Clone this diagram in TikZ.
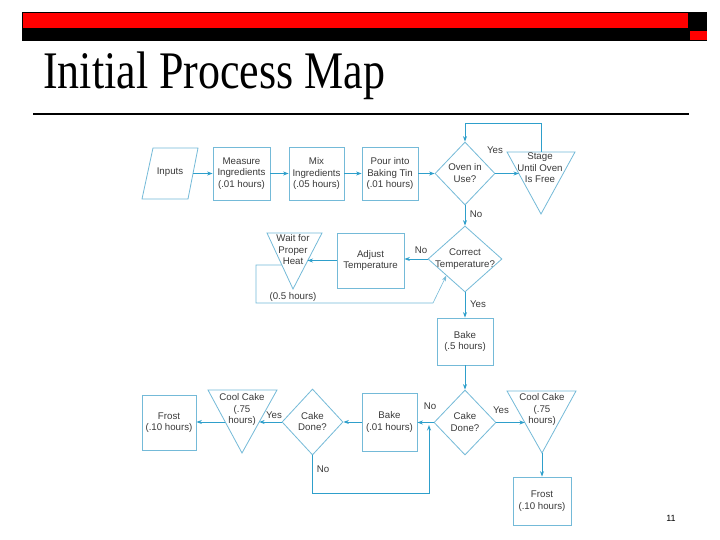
\documentclass[tikz,border=0pt]{standalone}
\usepackage{fontspec}
\setmainfont{Liberation Sans}
\newfontfamily\titlefont{Liberation Serif}
\usetikzlibrary{shapes.geometric,arrows.meta,calc}
\definecolor{boxc}{HTML}{74BAD8}
\definecolor{arrc}{HTML}{2E9FCB}
\definecolor{txtc}{HTML}{3A3A3A}
\definecolor{hdrred}{HTML}{FF0000}
\begin{document}
\begin{tikzpicture}[x=1pt,y=-1pt,
  txt/.style={text=txtc,font=\fontsize{9.7}{11.5}\selectfont,align=center,inner sep=0pt},
  boxn/.style={draw=boxc,line width=0.8pt,rectangle,text=txtc,font=\fontsize{9.7}{11.5}\selectfont,align=center,inner sep=1pt},
  dia/.style={draw=boxc,line width=0.8pt,diamond,inner sep=0pt},
  shp/.style={draw=boxc,line width=0.8pt,line join=miter},
  arr/.style={draw=arrc,line width=0.9pt,-{Stealth[length=5.5pt,width=4pt]}},
  lne/.style={draw=boxc,line width=0.8pt},
  lbl/.style={text=txtc,font=\fontsize{9.7}{11.5}\selectfont,inner sep=0pt}
]
\useasboundingbox (0,0) rectangle (720,540);
\fill[white] (0,0) rectangle (720,540);

% header
\fill[black] (22,12) rectangle (707,41);
\fill[hdrred] (23,13) rectangle (688,28);
\fill[hdrred] (690,31) rectangle (707,40);
\node[anchor=base west,inner sep=0pt] (title) at (43,89)
  {\scalebox{1}[1.2]{\titlefont\fontsize{44}{48}\selectfont Initial Process Map}};
\draw[line width=2pt] (33,114) -- (689,114);
\node[lbl,font=\fontsize{9}{10}\selectfont,text=black] (pnum) at (671,518) {11};

% Inputs parallelogram
\coordinate (in1) at (153,148);
\coordinate (in2) at (198,148);
\coordinate (in3) at (188,199);
\coordinate (in4) at (142,199);
\draw[shp] (in1) -- (in2) -- (in3) -- (in4) -- cycle;
\node[txt] (inputs) at (170,172) {Inputs};
\coordinate (inE) at ($(in2)!0.5!(in3)$);

% top row boxes
\node[boxn,minimum width=57pt,minimum height=53pt] (measure) at (241.5,173.5) {Measure\\Ingredients\\(.01 hours)};
\node[boxn,minimum width=55pt,minimum height=53pt] (mix) at (316.5,173.5) {Mix\\Ingredients\\(.05 hours)};
\node[boxn,minimum width=56pt,minimum height=53pt] (pour) at (390,173.5) {Pour into\\Baking Tin\\(.01 hours)};

% oven diamond
\node[dia,minimum width=60pt,minimum height=63pt] (oven) at (465,173.5) {};
\node[txt] (oventxt) at (465,173) {Oven in\\Use?};

% stage triangle
\coordinate (s1) at (507,152);
\coordinate (s2) at (575,152);
\coordinate (s3) at (541,214);
\draw[shp] (s1) -- (s2) -- (s3) -- cycle;
\node[txt] (stagetxt) at (540,168) {Stage\\Until Oven\\Is Free};
\coordinate (sW) at ($(s1)!0.35!(s3)$);
\coordinate (sTop) at (541,152);

% correct temperature diamond
\node[dia,minimum width=74pt,minimum height=66pt] (corr) at (465,259) {};
\node[txt] (corrtxt) at (465,259) {Correct\\Temperature?};

% adjust box
\node[boxn,minimum width=67pt,minimum height=55pt] (adjust) at (370.5,260.5) {Adjust\\Temperature};

% wait triangle
\coordinate (w1) at (267,233);
\coordinate (w2) at (322,233);
\coordinate (w3) at (293,289);
\draw[shp] (w1) -- (w2) -- (w3) -- cycle;
\node[txt] (waittxt) at (293,250) {Wait for\\Proper\\Heat};
\coordinate (wE) at ($(w2)!0.5!(w3)$);
\coordinate (wW) at ($(w1)!0.57!(w3)$);
\node[lbl] (halfh) at (293,297) {(0.5 hours)};
\coordinate (lp1) at (256,265);
\coordinate (lp2) at (256,303);
\coordinate (lp3) at (433,303);
\coordinate (corrSW) at ($(corr.west)!0.5!(corr.south)$);

% bake box
\node[boxn,minimum width=56pt,minimum height=47pt] (bake) at (465,341.5) {Bake\\(.5 hours)};

% right cake done diamond
\node[dia,minimum width=62pt,minimum height=65pt] (doneR) at (465,422.5) {};
\node[txt] (doneRtxt) at (465,422) {Cake\\Done?};

% right cool cake triangle
\coordinate (c1) at (507,391);
\coordinate (c2) at (576,391);
\coordinate (c3) at (542,453);
\draw[shp] (c1) -- (c2) -- (c3) -- cycle;
\node[txt] (coolRtxt) at (542,409.5) {Cool Cake\\(.75\\hours)};
\coordinate (cW) at ($(c1)!0.51!(c3)$);

% right frost
\node[boxn,minimum width=58pt,minimum height=48pt] (frostR) at (542,501) {Frost\\(.10 hours)};

% bake 2
\node[boxn,minimum width=55pt,minimum height=58pt] (bake2) at (389.5,422) {Bake\\(.01 hours)};

% left cake done
\node[dia,minimum width=61pt,minimum height=66pt] (doneL) at (312.5,422) {};
\node[txt] (doneLtxt) at (312.5,421.5) {Cake\\Done?};

% left cool cake triangle
\coordinate (d1) at (208,390);
\coordinate (d2) at (277,390);
\coordinate (d3) at (242,453);
\draw[shp] (d1) -- (d2) -- (d3) -- cycle;
\node[txt] (coolLtxt) at (242,409.5) {Cool Cake\\(.75\\hours)};
\coordinate (dE) at ($(d2)!0.51!(d3)$);
\coordinate (dW) at ($(d1)!0.51!(d3)$);

% left frost
\node[boxn,minimum width=54pt,minimum height=55pt] (frostL) at (169,422.5) {Frost\\(.10 hours)};

% connectors top row
\draw[arr] (inE) -- (inE -| measure.west);
\draw[arr] (measure.east) -- (mix.west);
\draw[arr] (mix.east) -- (pour.west);
\draw[arr] (pour.east) -- (oven.west);
\draw[arr] (oven.east) -- (sW |- oven.east);
\node[lbl] (yes1) at (495,150) {Yes};
\draw[arr] (sTop) -- (541,123) -| (oven.north);
\draw[arr] (oven.south) -- (corr.north);
\node[lbl] (no1) at (476,214) {No};

% correct temperature connectors
\draw[arr] (corr.west) -- (adjust.east |- corr.west);
\node[lbl] (no2) at (421,250) {No};
\draw[arr] (adjust.west) -- (wE |- adjust.west);
\draw[lne] (wW) -- (lp1) -- (lp2) -- (lp3);
\draw[arr,draw=boxc,line width=0.6pt] (lp3) -- (corrSW);
\draw[arr] (corr.south) -- (bake.north);
\node[lbl] (yes2) at (478,304) {Yes};

% bake -> done
\draw[arr] (bake.south) -- (doneR.north);
\draw[arr] (doneR.east) -- (cW |- doneR.east);
\node[lbl] (yes3) at (501,410) {Yes};
\draw[arr] (c3) -- (frostR.north);
\draw[arr] (doneR.west) -- (bake2.east |- doneR.west);
\node[lbl] (no3) at (430,406) {No};
\draw[arr] (bake2.west) -- (doneL.east |- bake2.west);
\draw[arr] (doneL.west) -- (dE |- doneL.west);
\node[lbl] (yes4) at (274,415) {Yes};
\draw[arr] (dW |- doneL.west) -- (frostL.east |- doneL.west);
\draw[arr] (doneL.south) -- (312.5,493) -| (429,425);
\node[lbl] (no4) at (323,469) {No};
\end{tikzpicture}
\end{document}
